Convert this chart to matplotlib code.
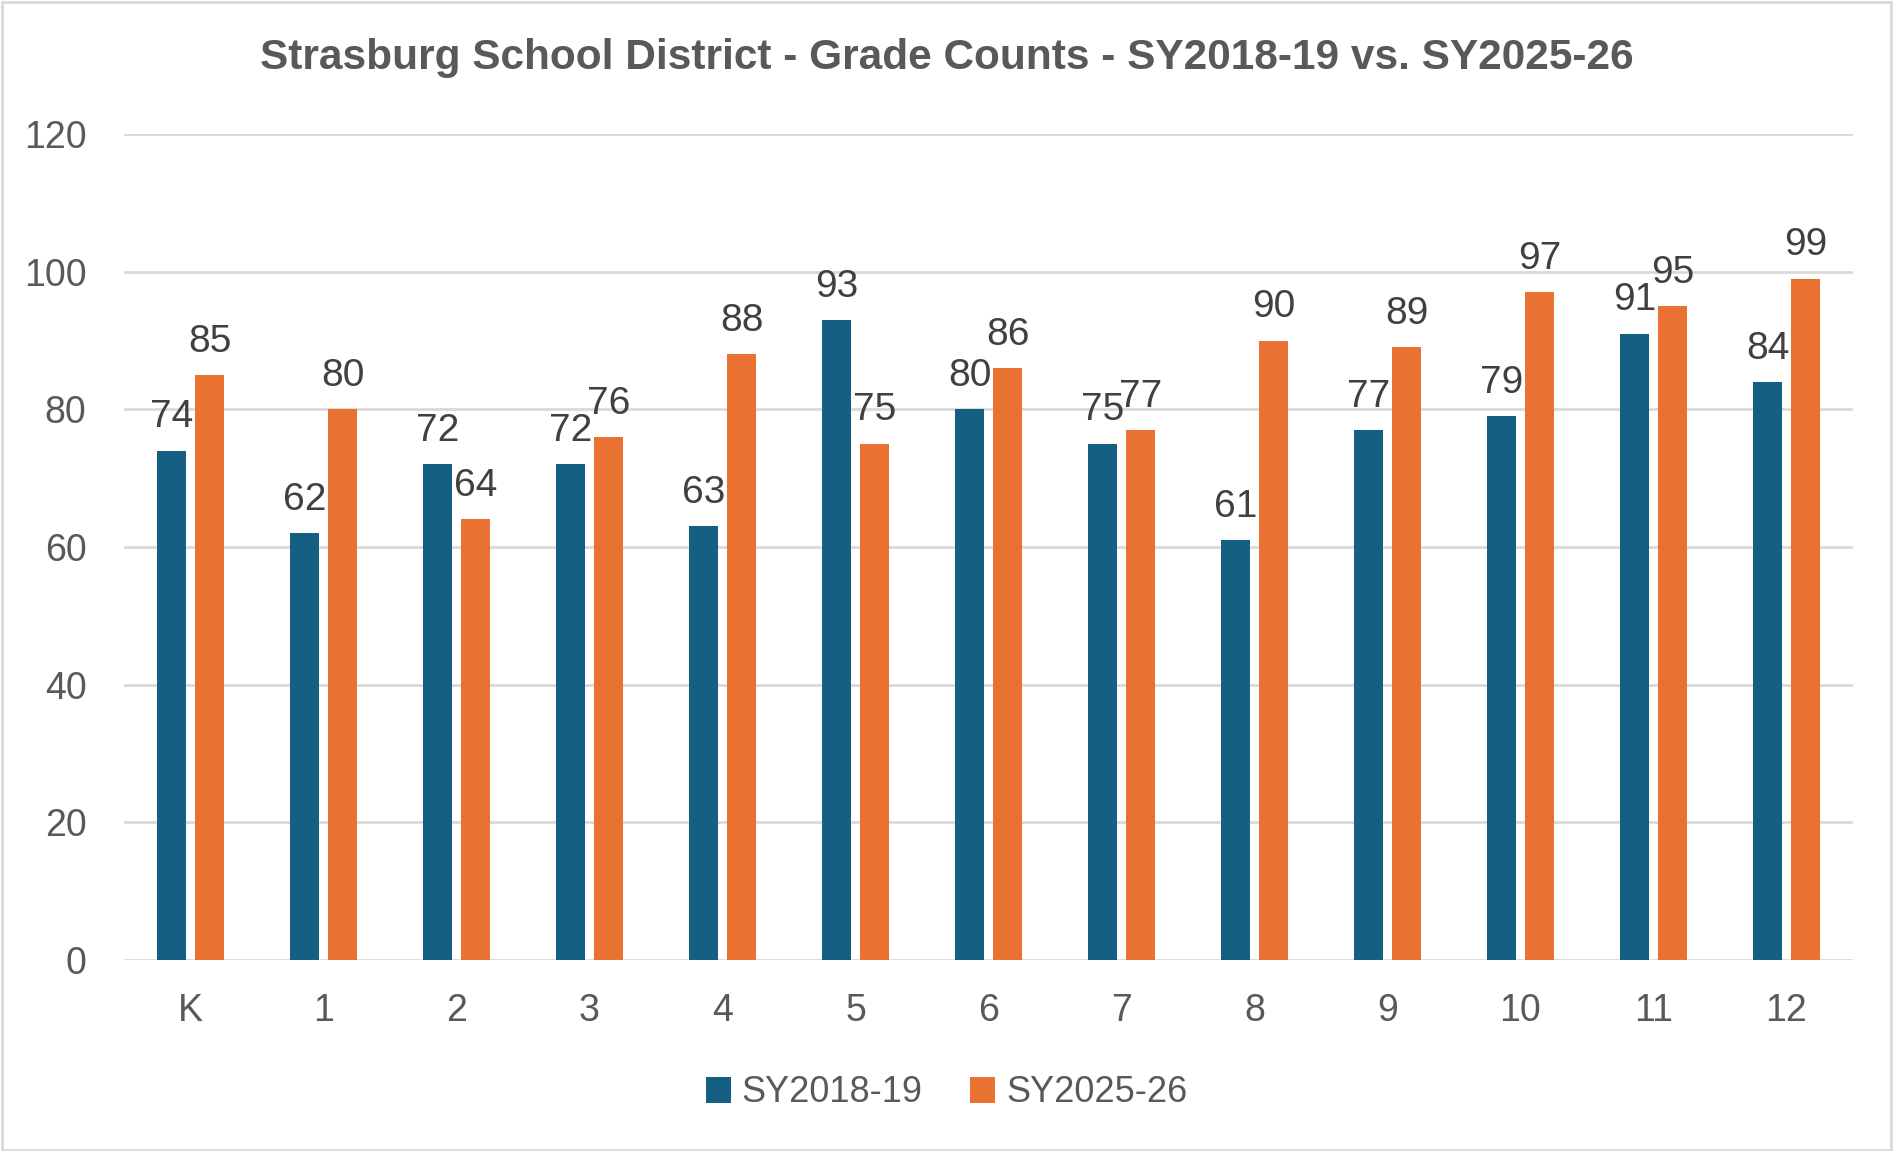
import matplotlib
matplotlib.use("Agg")
import matplotlib.pyplot as plt
import numpy as np
from matplotlib.patches import Rectangle

grades = ["K", "1", "2", "3", "4", "5", "6", "7", "8", "9", "10", "11", "12"]
sy2018 = [74, 62, 72, 72, 63, 93, 80, 75, 61, 77, 79, 91, 84]
sy2025 = [85, 80, 64, 76, 88, 75, 86, 77, 90, 89, 97, 95, 99]
series_names = ["SY2018-19", "SY2025-26"]
yticks = [0, 20, 40, 60, 80, 100, 120]

BLUE = "#156082"
ORANGE = "#E97132"
TXT = "#595959"
LBL = "#404040"
GRID = "#D9D9D9"

plt.rcParams['font.family'] = ['Liberation Sans', 'DejaVu Sans']

W, H = 1893, 1151
fig = plt.figure(figsize=(W / 100, H / 100), dpi=100)
fig.patch.set_facecolor("white")
fig.add_artist(Rectangle((0.001, 0.001), 0.998, 0.997, transform=fig.transFigure,
                         fill=False, edgecolor=GRID, linewidth=2))

left, right = 124 / W, 1853 / W
bottom, top = 1 - 960 / H, 1 - 134 / H
ax = fig.add_axes([left, bottom, right - left, top - bottom])

x = np.arange(len(grades))
bw = 0.225
off = 0.143
b1 = ax.bar(x - off, sy2018, bw, color=BLUE, label=series_names[0], zorder=3)
b2 = ax.bar(x + off, sy2025, bw, color=ORANGE, label=series_names[1], zorder=3)

for xs, vals in ((x - off, sy2018), (x + off, sy2025)):
    for xi, v in zip(xs, vals):
        ax.annotate(str(v), (xi, v), xytext=(0, 11), textcoords="offset points",
                    ha="center", va="bottom", fontsize=28, color=LBL, zorder=4)

ax.set_xlim(-0.5, len(grades) - 0.5)
ax.set_ylim(0, 120)
ax.set_yticks(yticks)
ax.set_xticks(x)
ax.set_xticklabels(grades)
ax.tick_params(axis="both", length=0, labelsize=27, labelcolor=TXT)
ax.tick_params(axis="y", pad=27)
ax.tick_params(axis="x", pad=24)
ax.grid(axis="y", color=GRID, linewidth=2, zorder=0)
for s in ax.spines.values():
    s.set_visible(False)

fig.text(0.5, 1 - 58 / H, "Strasburg School District - Grade Counts - SY2018-19 vs. SY2025-26",
         ha="center", va="center", fontsize=30.5, fontweight="bold", color=TXT,
         family=["Liberation Sans Narrow", "Liberation Sans", "DejaVu Sans"])

leg = fig.legend(handles=[b1, b2], loc="center", bbox_to_anchor=(0.5, 1 - 1093 / H),
                 ncol=2, frameon=False, fontsize=26, handlelength=0.7, handleheight=0.7,
                 handletextpad=0.3, columnspacing=1.3)
for t in leg.get_texts():
    t.set_color(TXT)

fig.savefig("out.png", dpi=100, facecolor="white")
